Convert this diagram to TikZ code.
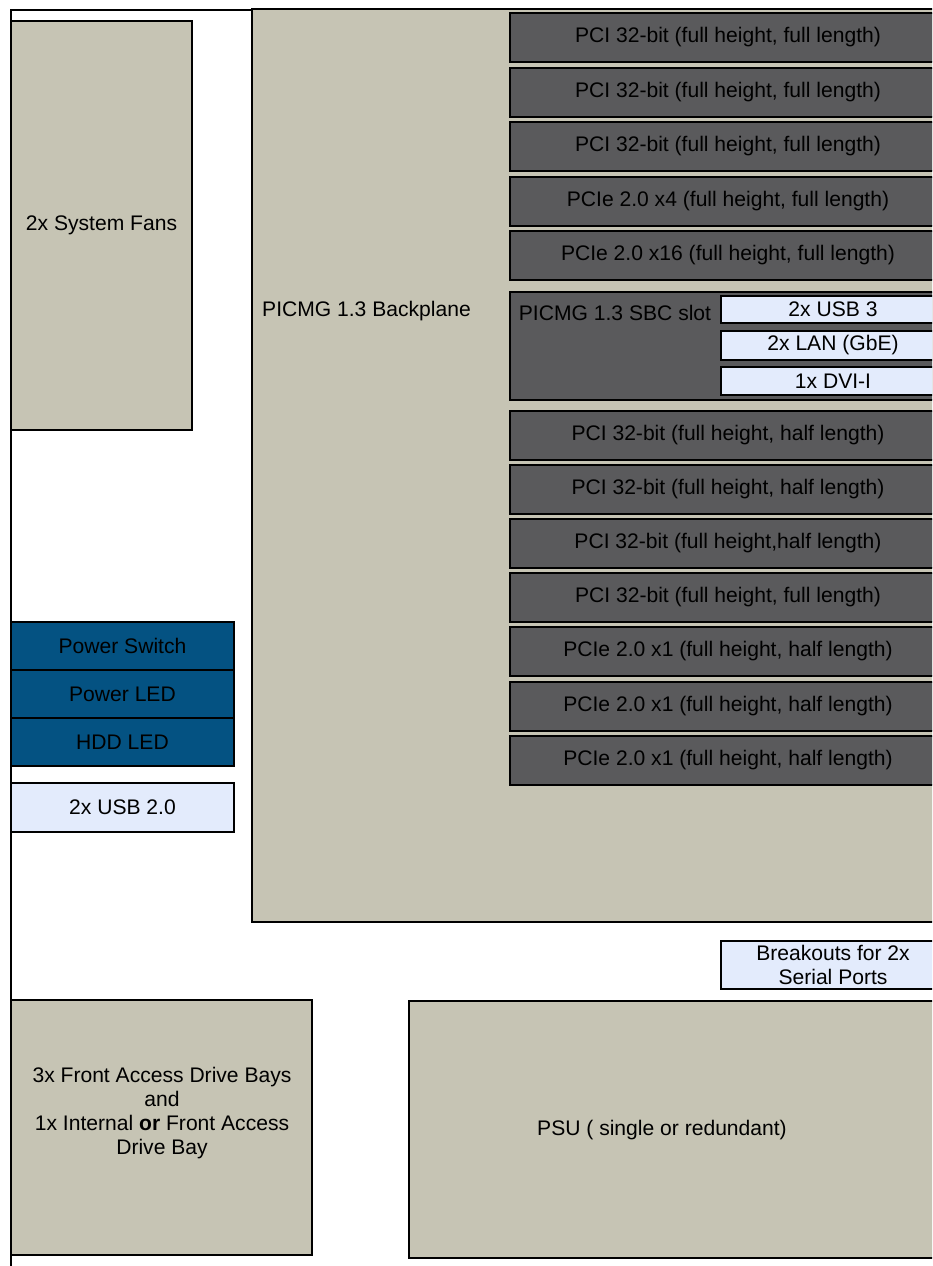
\documentclass[tikz,border=0pt]{standalone}
\usepackage{fontspec}
\setmainfont{Liberation Sans}
\usetikzlibrary{fit,positioning}
\definecolor{chassis}{HTML}{C6C4B4}
\definecolor{slotgrey}{HTML}{5A5A5C}
\definecolor{panelblue}{HTML}{045282}
\definecolor{portblue}{HTML}{E3EBFC}
\tikzset{
  block/.style={draw,line width=1.5pt,fill=chassis,inner sep=0pt},
  slotcard/.style={draw,line width=1.5pt,fill=slotgrey,inner sep=0pt},
  panelkey/.style={draw,line width=1.5pt,fill=panelblue,inner sep=0pt},
  portbox/.style={draw,line width=1.5pt,fill=portblue,inner sep=0pt}
}

\begin{document}
\begin{tikzpicture}[x=0.02cm,y=-0.02cm,font=\fontsize{12pt}{14pt}\selectfont]
  \useasboundingbox (0,0) rectangle (932,1266);
  \clip (0,0) rectangle (932,1266);
  % chassis outline
  \draw[line width=1.5pt] (11,1270) -- (11,10) -- (252,10);
  \node[block,fit={(11,21)(192,430)},label=center:{2x System Fans}] (fans) {};
  \node[block,fit={(252,9)(960,922)}] (plane) {};
  \node[anchor=west] (planelbl) at (256,311) {PICMG 1.3 Backplane};
  % slots above the SBC
  \foreach \y/\n/\t in {13/pci1/{PCI 32-bit (full height, full length)},
      68/pci2/{PCI 32-bit (full height, full length)},
      122/pci3/{PCI 32-bit (full height, full length)},
      177/pcie4/{PCIe 2.0 x4 (full height, full length)},
      231/pcie16/{PCIe 2.0 x16 (full height, full length)}}
    \node[slotcard,fit={(510,\y)(946,\y+49)},label=center:{\t}] (\n) {};
  % SBC slot
  \node[slotcard,fit={(510,292)(946,400)}] (sbc) {};
  \node (sbclbl) at (615,313) {PICMG 1.3 SBC slot};
  \node[portbox,fit={(721,296)(945,323)},label=center:{2x USB 3}] (usb3) {};
  \node[portbox,fit={(721,331)(945,360)},label=center:{2x LAN (GbE)}] (lan) {};
  \node[portbox,fit={(721,367)(945,395)},label=center:{1x DVI-I}] (dvi) {};
  % slots below the SBC
  \foreach \y/\n/\t in {411/pci5/{PCI 32-bit (full height, half length)},
      465/pci6/{PCI 32-bit (full height, half length)},
      519/pci7/{PCI 32-bit (full height,half length)},
      573/pci8/{PCI 32-bit (full height, full length)},
      627/pcix1a/{PCIe 2.0 x1 (full height, half length)},
      682/pcix1b/{PCIe 2.0 x1 (full height, half length)},
      736/pcix1c/{PCIe 2.0 x1 (full height, half length)}}
    \node[slotcard,fit={(510,\y)(946,\y+49)},label=center:{\t}] (\n) {};
  % front panel
  \foreach \y/\n/\t in {622/pwrsw/{Power Switch},670/pwrled/{Power LED},718/hddled/{HDD LED}}
    \node[panelkey,fit={(11,\y)(234,\y+48)},label=center:{\t}] (\n) {};
  \node[portbox,fit={(11,783)(234,832)},label=center:{2x USB 2.0}] (usb2) {};
  \node[portbox,fit={(721,941)(945,989)},
    label={[align=center]center:Breakouts for 2x\\Serial Ports}] (serial) {};
  % drive bays and PSU
  \node[block,fit={(11,1000)(312,1255)}] (bays) {};
  \node[align=center,font=\fontsize{12pt}{13.8pt}\selectfont] (bayslbl) at (162,1113)
    {3x Front Access Drive Bays\\and\\1x Internal \textbf{or} Front Access\\Drive Bay};
  \node[block,fit={(409,1001)(960,1258)}] (psu) {};
  \node (psulbl) at (662,1130) {PSU ( single or redundant)};
\end{tikzpicture}
\end{document}
